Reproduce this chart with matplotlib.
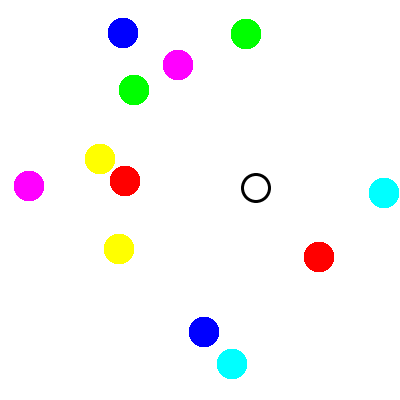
import matplotlib
matplotlib.use("Agg")
import matplotlib.pyplot as plt

# filled dots (pixel-space coordinates, y down)
dot_x = [123, 246, 178, 134, 100, 125, 29, 384, 119, 319, 204, 232]
dot_y = [33, 34, 65, 90, 159, 181, 186, 193, 249, 257, 332, 364]
dot_colors = ["#0000ff", "#00ff00", "#ff00ff", "#00ff00", "#ffff00", "#ff0000",
              "#ff00ff", "#00ffff", "#ffff00", "#ff0000", "#0000ff", "#00ffff"]

# hollow marker
ring_x = [256]
ring_y = [188]

fig = plt.figure(figsize=(4, 4), dpi=100)
ax = fig.add_axes([0, 0, 1, 1])
ax.set_xlim(0, 400)
ax.set_ylim(400, 0)
ax.axis("off")

pt = 72 / 100  # pixels -> points
ax.scatter(dot_x, dot_y, s=(29.5 * pt) ** 2, c=dot_colors, linewidths=0,
           antialiased=False)
ax.scatter(ring_x, ring_y, s=(27 * pt) ** 2, facecolors="none",
           edgecolors="black", linewidths=3 * pt)

fig.savefig("out.png", dpi=100, facecolor="white")
